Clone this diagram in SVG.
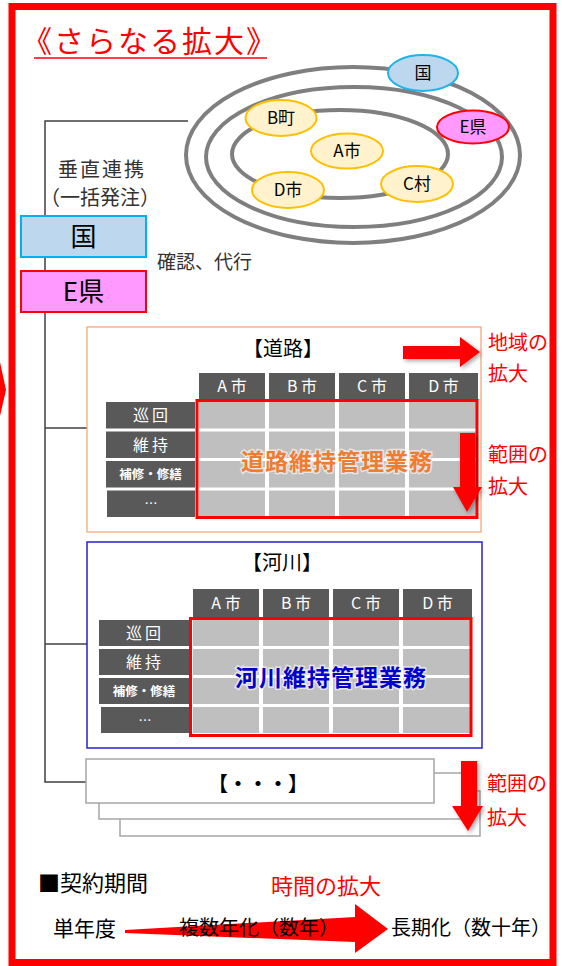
<svg xmlns="http://www.w3.org/2000/svg" width="562" height="966" viewBox="0 0 562 966">
<defs>
<style>
text{font-family:"Noto Sans CJK JP","Noto Sans",sans-serif;}
.frame{fill:none;stroke:#ff0000;stroke-width:7}
.ring{fill:none;stroke:#7f7f7f;stroke-width:4}
.town{fill:#fff2cc;stroke:#ffc000;stroke-width:2}
.lbl{font-size:17px;fill:#000;text-anchor:middle}
.conn{fill:none;stroke:#404040;stroke-width:1.5}
.hdr{fill:#595959}
.cell{fill:#bfbfbf}
.ht{font-size:16px;fill:#fff;text-anchor:middle}
.rt{font-size:16px;fill:#fff;text-anchor:middle;letter-spacing:3px}
.rs{font-size:12.5px;fill:#fff;text-anchor:middle;font-weight:bold}
.dots{font-size:13px;fill:#fff;text-anchor:middle}
.rtxt{font-size:20px;fill:#ff0000}
.dark{fill:#262626}
.sel{fill:none;stroke:#ff0000;stroke-width:3}
.arrow{fill:#ff0000;filter:url(#sh)}
.biz{font-size:23px;font-weight:bold;text-anchor:middle;letter-spacing:1px;stroke:#fff;stroke-width:3;stroke-opacity:0.6;paint-order:stroke}
.box{fill:#fff;stroke:#a6a6a6;stroke-width:1.5}
</style>
<filter id="sh" x="-30%" y="-30%" width="170%" height="170%">
<feDropShadow dx="2" dy="2" stdDeviation="2" flood-color="#000" flood-opacity="0.35"/>
</filter>
</defs>
<rect width="562" height="966" fill="#fff"/>
<polygon points="0,362 6,390 0,416" fill="#ff0000"/>
<rect class="frame" x="12" y="6.5" width="541" height="956"/>

<g id="title">
<text x="22" y="52" font-size="30" fill="#ff0000" letter-spacing="2">《さらなる拡大》</text>
<line x1="34" y1="58" x2="267" y2="58" stroke="#ff0000" stroke-width="1.5"/>
</g>

<g id="connectors">
<path class="conn" d="M188,121 H45 V782 H86"/>
<path class="conn" d="M45,428 H87"/>
<path class="conn" d="M45,644 H87"/>
</g>

<g id="rings">
<ellipse class="ring" cx="353" cy="155" rx="167" ry="88"/>
<ellipse class="ring" cx="354" cy="157" rx="148" ry="70"/>
<ellipse class="ring" cx="340" cy="154" rx="108" ry="44"/>
</g>
<g id="node-kuni-oval"><ellipse cx="423" cy="73" rx="35" ry="18" fill="#bdd7ee" stroke="#1fb4e8" stroke-width="2"/><text class="lbl" x="423" y="79">国</text></g>
<g id="node-eken-oval"><ellipse cx="473" cy="127" rx="36" ry="16.5" fill="#ff99ff" stroke="#ff0000" stroke-width="2"/><text class="lbl" x="473" y="133">E県</text></g>
<g id="node-bmachi"><ellipse class="town" cx="281" cy="118" rx="35.5" ry="18"/><text class="lbl" x="281" y="124">B町</text></g>
<g id="node-ashi"><ellipse class="town" cx="347" cy="151" rx="36" ry="17.5"/><text class="lbl" x="347" y="157">A市</text></g>
<g id="node-dshi"><ellipse class="town" cx="288" cy="190" rx="36" ry="18"/><text class="lbl" x="288" y="196">D市</text></g>
<g id="node-cmura"><ellipse class="town" cx="417" cy="184" rx="36" ry="18"/><text class="lbl" x="417" y="190">C村</text></g>

<g id="label-vertical">
<text x="58" y="177" font-size="20" fill="#333" letter-spacing="2">垂直連携</text>
<text x="40" y="205" font-size="20" fill="#333">（一括発注）</text>
</g>
<g id="node-kuni"><rect x="21" y="216" width="125" height="41" fill="#bdd7ee" stroke="#00b0f0" stroke-width="2"/><text x="83.5" y="246" font-size="26" text-anchor="middle" fill="#000">国</text></g>
<g id="node-eken"><rect x="21" y="271" width="125" height="41" fill="#ff99ff" stroke="#ff0000" stroke-width="2"/><text x="83.5" y="301" font-size="26" text-anchor="middle" fill="#000">E県</text></g>
<g id="label-confirm"><text x="157" y="269" font-size="19" fill="#333">確認、代行</text></g>

<g id="node-road">
<rect x="87" y="327" width="394" height="205" fill="#fff" stroke="#f4a070" stroke-width="1.2"/>
<text x="283" y="356" font-size="20" text-anchor="middle" fill="#000">【道路】</text>
<rect class="hdr" x="199" y="373" width="66" height="26"/><rect class="hdr" x="269" y="373" width="66" height="26"/><rect class="hdr" x="339" y="373" width="66" height="26"/><rect class="hdr" x="409" y="373" width="69" height="26"/>
<text class="ht" x="232" y="391.5">A 市</text><text class="ht" x="302" y="391.5">B 市</text><text class="ht" x="372" y="391.5">C 市</text><text class="ht" x="443.5" y="391.5">D 市</text>
<rect class="hdr" x="106" y="402" width="89" height="26.5"/><rect class="hdr" x="106" y="431.5" width="89" height="26.5"/><rect class="hdr" x="106" y="461" width="89" height="26.5"/><rect class="hdr" x="107" y="490.5" width="88" height="26.5"/>
<text class="rt" x="152" y="421">巡回</text><text class="rt" x="152" y="450.5">維持</text><text class="rs" x="150.5" y="479">補修・修繕</text><text class="dots" x="151" y="508">…</text>
<g>
<rect class="cell" x="199" y="402" width="66" height="26.5"/><rect class="cell" x="269" y="402" width="66" height="26.5"/><rect class="cell" x="339" y="402" width="66" height="26.5"/><rect class="cell" x="409" y="402" width="67" height="26.5"/>
<rect class="cell" x="199" y="431.5" width="66" height="26.5"/><rect class="cell" x="269" y="431.5" width="66" height="26.5"/><rect class="cell" x="339" y="431.5" width="66" height="26.5"/><rect class="cell" x="409" y="431.5" width="67" height="26.5"/>
<rect class="cell" x="199" y="461" width="66" height="26.5"/><rect class="cell" x="269" y="461" width="66" height="26.5"/><rect class="cell" x="339" y="461" width="66" height="26.5"/><rect class="cell" x="409" y="461" width="67" height="26.5"/>
<rect class="cell" x="199" y="490.5" width="66" height="26"/><rect class="cell" x="269" y="490.5" width="66" height="26"/><rect class="cell" x="339" y="490.5" width="66" height="26"/><rect class="cell" x="409" y="490.5" width="67" height="26"/>
</g>
<rect class="sel" x="197" y="400.5" width="280" height="117"/>
<text class="biz" x="337" y="470" fill="#ed7d31">道路維持管理業務</text>
</g>

<g id="node-river">
<rect x="87" y="542" width="395" height="206" fill="#fff" stroke="#2222cc" stroke-width="1.5"/>
<text x="282" y="570" font-size="20" text-anchor="middle" fill="#000">【河川】</text>
<rect class="hdr" x="193" y="589" width="66" height="28"/><rect class="hdr" x="263" y="589" width="66" height="28"/><rect class="hdr" x="333" y="589" width="66" height="28"/><rect class="hdr" x="403" y="589" width="69" height="28"/>
<text class="ht" x="226" y="608.5">A 市</text><text class="ht" x="296" y="608.5">B 市</text><text class="ht" x="366" y="608.5">C 市</text><text class="ht" x="437.5" y="608.5">D 市</text>
<rect class="hdr" x="99" y="620" width="90" height="26"/><rect class="hdr" x="99" y="649" width="90" height="26"/><rect class="hdr" x="99" y="678" width="90" height="26"/><rect class="hdr" x="101" y="707" width="88" height="26"/>
<text class="rt" x="145" y="638.5">巡回</text><text class="rt" x="145" y="667.5">維持</text><text class="rs" x="144" y="696">補修・修繕</text><text class="dots" x="145" y="725">…</text>
<g>
<rect class="cell" x="193" y="620" width="66" height="26"/><rect class="cell" x="263" y="620" width="66" height="26"/><rect class="cell" x="333" y="620" width="66" height="26"/><rect class="cell" x="403" y="620" width="67" height="26"/>
<rect class="cell" x="193" y="649" width="66" height="26"/><rect class="cell" x="263" y="649" width="66" height="26"/><rect class="cell" x="333" y="649" width="66" height="26"/><rect class="cell" x="403" y="649" width="67" height="26"/>
<rect class="cell" x="193" y="678" width="66" height="26"/><rect class="cell" x="263" y="678" width="66" height="26"/><rect class="cell" x="333" y="678" width="66" height="26"/><rect class="cell" x="403" y="678" width="67" height="26"/>
<rect class="cell" x="193" y="707" width="66" height="26"/><rect class="cell" x="263" y="707" width="66" height="26"/><rect class="cell" x="333" y="707" width="66" height="26"/><rect class="cell" x="403" y="707" width="67" height="26"/>
</g>
<rect class="sel" x="190.5" y="618.5" width="280.5" height="117"/>
<text class="biz" x="331" y="686" fill="#0000cc">河川維持管理業務</text>
</g>

<g id="node-other">
<rect class="box" x="120" y="791" width="360" height="45"/>
<rect class="box" x="99" y="773" width="363" height="46"/>
<rect class="box" x="86" y="759" width="348" height="44"/>
<text x="258" y="791" font-size="20" font-weight="bold" text-anchor="middle" fill="#000">【・・・】</text>
</g>

<g id="arrow-area">
<path class="arrow" d="M403,346 H460 V337 L480,352 L460,367 V359 H403 Z"/>
<text class="rtxt" x="488" y="350">地域の</text><text class="rtxt" x="488" y="381">拡大</text>
</g>
<g id="arrow-scope-road">
<path class="arrow" d="M460,433 H475 V487 H482 L467,512 L453,487 H460 Z"/>
<text class="rtxt" x="488" y="462">範囲の</text><text class="rtxt" x="488" y="494">拡大</text>
</g>
<g id="arrow-scope-other">
<path class="arrow" d="M461,761 H477 V806 H483 L468,831 L452,806 H461 Z"/>
<text class="rtxt" x="487" y="791">範囲の</text><text class="rtxt" x="487" y="825">拡大</text>
</g>

<g id="contract">
<text x="38" y="891" font-size="22" fill="#000">■契約期間</text>
<text x="271" y="894" font-size="22" fill="#ff0000">時間の拡大</text>
<polygon points="125,930 355,917 355,904 388,929 355,953 355,942 125,933" fill="#ff0000"/>
<text x="53" y="936" font-size="21" fill="#000">単年度</text>
<text x="179" y="935" font-size="20" fill="#000">複数年化（数年）</text>
<text x="391" y="935" font-size="20" fill="#000">長期化（数十年）</text>
</g>
</svg>
